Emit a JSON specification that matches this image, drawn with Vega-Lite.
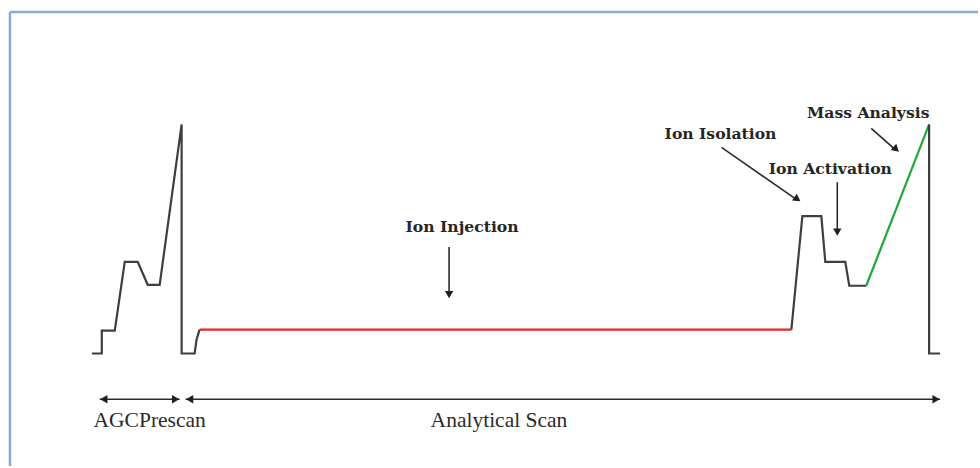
{
  "$schema": "https://vega.github.io/schema/vega-lite/v6.json",
  "width": 980,
  "height": 468,
  "autosize": {"type": "fit", "contains": "padding"},
  "padding": 0,
  "background": "white",
  "config": {"view": {"stroke": null}},
  "datasets": {
    "wave": [
      {"seg": "prescan", "i": 1, "t": 92, "amp": 0},
      {"seg": "prescan", "i": 2, "t": 102, "amp": 0},
      {"seg": "prescan", "i": 3, "t": 102, "amp": 23},
      {"seg": "prescan", "i": 4, "t": 115, "amp": 23},
      {"seg": "prescan", "i": 5, "t": 125, "amp": 92},
      {"seg": "prescan", "i": 6, "t": 138, "amp": 92},
      {"seg": "prescan", "i": 7, "t": 148, "amp": 69},
      {"seg": "prescan", "i": 8, "t": 160, "amp": 69},
      {"seg": "prescan", "i": 9, "t": 182, "amp": 230},
      {"seg": "prescan", "i": 10, "t": 182, "amp": 0},
      {"seg": "prescan", "i": 11, "t": 195, "amp": 0},
      {"seg": "prescan", "i": 12, "t": 197, "amp": 14},
      {"seg": "prescan", "i": 13, "t": 200, "amp": 24},
      {"seg": "injection", "i": 1, "t": 200, "amp": 24},
      {"seg": "injection", "i": 2, "t": 793, "amp": 24},
      {"seg": "isolation", "i": 1, "t": 793, "amp": 24},
      {"seg": "isolation", "i": 2, "t": 804, "amp": 138},
      {"seg": "isolation", "i": 3, "t": 823, "amp": 138},
      {"seg": "isolation", "i": 4, "t": 827, "amp": 92},
      {"seg": "isolation", "i": 5, "t": 847, "amp": 92},
      {"seg": "isolation", "i": 6, "t": 851, "amp": 68},
      {"seg": "isolation", "i": 7, "t": 868, "amp": 68},
      {"seg": "mass", "i": 1, "t": 868, "amp": 68},
      {"seg": "mass", "i": 2, "t": 931, "amp": 230},
      {"seg": "end", "i": 1, "t": 931, "amp": 230},
      {"seg": "end", "i": 2, "t": 931, "amp": 0},
      {"seg": "end", "i": 3, "t": 942, "amp": 0}
    ],
    "arrows": [
      {"name": "injection", "t": 450, "amp": 107, "t2": 450, "amp2": 58},
      {"name": "isolation", "t": 723, "amp": 207, "t2": 799, "amp2": 154},
      {"name": "activation", "t": 839, "amp": 172, "t2": 839, "amp2": 121},
      {"name": "mass", "t": 873, "amp": 226, "t2": 898, "amp2": 204},
      {"name": "agc", "t": 100, "amp": -46, "t2": 180, "amp2": -46},
      {"name": "analytical", "t": 186, "amp": -46, "t2": 942, "amp2": -46}
    ],
    "heads": [
      {"t": 450, "amp": 59, "shape": "triangle-down", "angle": 0},
      {"t": 799, "amp": 155, "shape": "triangle-right", "angle": 35},
      {"t": 839, "amp": 122, "shape": "triangle-down", "angle": 0},
      {"t": 898, "amp": 205, "shape": "triangle-right", "angle": 42},
      {"t": 104, "amp": -46, "shape": "triangle-left", "angle": 0},
      {"t": 176, "amp": -46, "shape": "triangle-right", "angle": 0},
      {"t": 190, "amp": -46, "shape": "triangle-left", "angle": 0},
      {"t": 938, "amp": -46, "shape": "triangle-right", "angle": 0}
    ],
    "labels": [
      {"text": "Ion Injection", "t": 463, "amp": 127, "bold": true},
      {"text": "Ion Isolation", "t": 722, "amp": 220, "bold": true},
      {"text": "Ion Activation", "t": 832, "amp": 185, "bold": true},
      {"text": "Mass Analysis", "t": 870, "amp": 242, "bold": true},
      {"text": "AGCPrescan", "t": 150, "amp": -68, "bold": false},
      {"text": "Analytical Scan", "t": 500, "amp": -68, "bold": false}
    ],
    "frame": [
      {"t": 10, "t2": 980, "amp": 343, "amp2": 343},
      {"t": 10, "t2": 10, "amp": 343, "amp2": -113}
    ]
  },
  "layer": [
    {
      "data": {"name": "frame"},
      "mark": {"type": "rule", "color": "#86AEDB", "strokeWidth": 2.5},
      "encoding": {
        "x": {"field": "t", "type": "quantitative", "scale": {"domain": [0, 980]}, "axis": null},
        "x2": {"field": "t2"},
        "y": {"field": "amp", "type": "quantitative", "scale": {"domain": [-113, 355]}, "axis": null},
        "y2": {"field": "amp2"}
      }
    },
    {
      "data": {"name": "wave"},
      "mark": {"type": "line", "strokeWidth": 2.2, "strokeJoin": "miter"},
      "encoding": {
        "x": {"field": "t", "type": "quantitative", "scale": {"domain": [0, 980]}, "axis": null},
        "y": {"field": "amp", "type": "quantitative", "scale": {"domain": [-113, 355]}, "axis": null},
        "detail": {"field": "seg"},
        "order": {"field": "i", "type": "quantitative"},
        "color": {
          "field": "seg", "type": "nominal", "legend": null,
          "scale": {
            "domain": ["prescan", "injection", "isolation", "mass", "end"],
            "range": ["#3b3f44", "#e8242b", "#3b3f44", "#1ea83c", "#3b3f44"]
          }
        }
      }
    },
    {
      "data": {"name": "arrows"},
      "mark": {"type": "rule", "color": "#2b2b2b", "strokeWidth": 1.6},
      "encoding": {
        "x": {"field": "t", "type": "quantitative", "scale": {"domain": [0, 980]}, "axis": null},
        "x2": {"field": "t2"},
        "y": {"field": "amp", "type": "quantitative", "scale": {"domain": [-113, 355]}, "axis": null},
        "y2": {"field": "amp2"}
      }
    },
    {
      "data": {"name": "heads"},
      "mark": {"type": "point", "filled": true, "color": "#1f1f1f", "size": 70, "opacity": 1},
      "encoding": {
        "x": {"field": "t", "type": "quantitative", "scale": {"domain": [0, 980]}, "axis": null},
        "y": {"field": "amp", "type": "quantitative", "scale": {"domain": [-113, 355]}, "axis": null},
        "shape": {"field": "shape", "type": "nominal", "scale": null, "legend": null},
        "angle": {"field": "angle", "type": "quantitative", "scale": null}
      }
    },
    {
      "data": {"name": "labels"},
      "transform": [{"filter": "datum.bold"}],
      "mark": {"type": "text", "font": "DejaVu Serif", "fontWeight": "bold", "fontSize": 15.6, "color": "#262626", "align": "center", "baseline": "middle"},
      "encoding": {
        "x": {"field": "t", "type": "quantitative", "scale": {"domain": [0, 980]}, "axis": null},
        "y": {"field": "amp", "type": "quantitative", "scale": {"domain": [-113, 355]}, "axis": null},
        "text": {"field": "text"}
      }
    },
    {
      "data": {"name": "labels"},
      "transform": [{"filter": "!datum.bold"}],
      "mark": {"type": "text", "font": "Liberation Serif", "fontSize": 21.5, "color": "#2a2a2a", "align": "center", "baseline": "middle"},
      "encoding": {
        "x": {"field": "t", "type": "quantitative", "scale": {"domain": [0, 980]}, "axis": null},
        "y": {"field": "amp", "type": "quantitative", "scale": {"domain": [-113, 355]}, "axis": null},
        "text": {"field": "text"}
      }
    }
  ]
}
